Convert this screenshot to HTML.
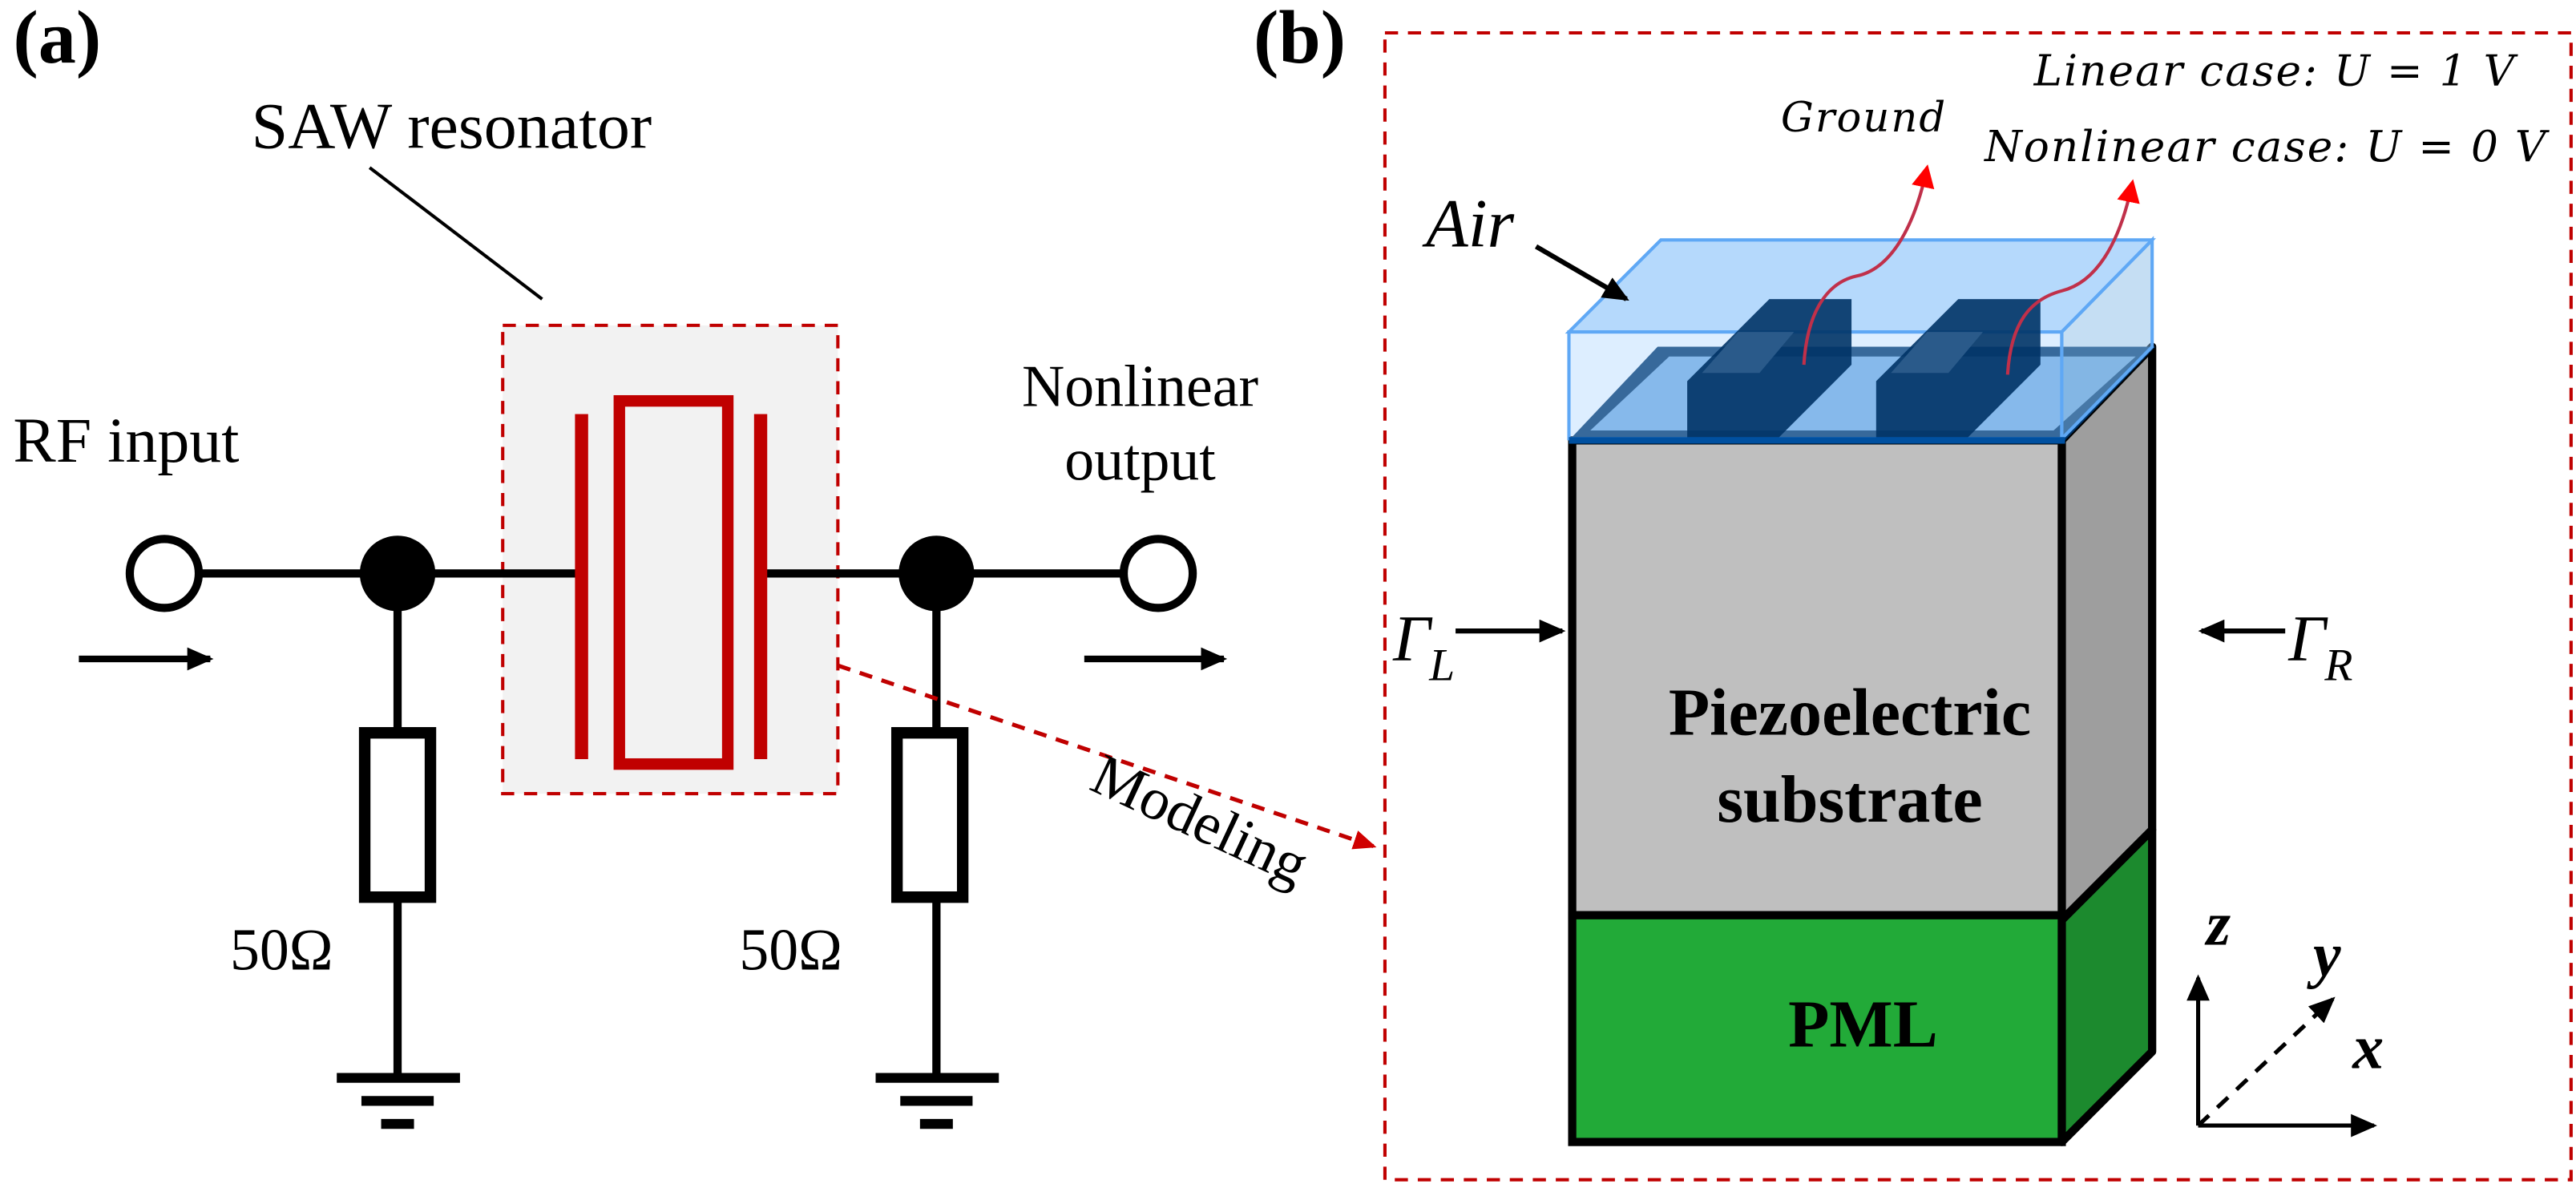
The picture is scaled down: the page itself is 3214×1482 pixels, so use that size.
<!DOCTYPE html>
<html><head><meta charset="utf-8"><style>html,body{margin:0;padding:0;background:#fff}svg{display:block}</style></head>
<body>
<svg width="3214" height="1482" viewBox="0 0 1568 723" xmlns="http://www.w3.org/2000/svg">
<defs>
<marker id="ab2" markerWidth="16" markerHeight="14" refX="14" refY="7" orient="auto" markerUnits="userSpaceOnUse"><path d="M0,0 L16,7 L0,14 z" fill="#000"/></marker>
<marker id="ar" markerWidth="14" markerHeight="12" refX="12" refY="6" orient="auto" markerUnits="userSpaceOnUse"><path d="M0,0 L14,6 L0,12 z" fill="#d00000"/></marker>
<marker id="arr" markerWidth="14" markerHeight="14" refX="12" refY="7" orient="auto" markerUnits="userSpaceOnUse"><path d="M0,0 L14,7 L0,14 z" fill="#ff0000"/></marker>
</defs>
<g font-family="Liberation Serif, serif">
<text x="8" y="38" font-size="46" font-weight="bold">(a)</text>
<text x="763" y="38" font-size="46" font-weight="bold">(b)</text>

<!-- (a) circuit -->
<rect x="306" y="198" width="204" height="285" fill="#f2f2f2" stroke="#c00000" stroke-width="2" stroke-dasharray="8,6"/>
<text x="153" y="90" font-size="40">SAW resonator</text>
<line x1="225" y1="102" x2="330" y2="182" stroke="#000" stroke-width="2"/>
<text x="8" y="281" font-size="39">RF input</text>
<text x="694" y="247" font-size="36" text-anchor="middle">Nonlinear</text>
<text x="694" y="292" font-size="36" text-anchor="middle">output</text>
<line x1="122" y1="349" x2="352" y2="349" stroke="#000" stroke-width="5"/>
<line x1="464" y1="349" x2="685" y2="349" stroke="#000" stroke-width="5"/>
<circle cx="100" cy="349" r="21" fill="#fff" stroke="#000" stroke-width="5"/>
<circle cx="705" cy="349" r="21" fill="#fff" stroke="#000" stroke-width="5"/>
<circle cx="242" cy="349" r="23" fill="#000"/>
<circle cx="570" cy="349" r="23" fill="#000"/>
<rect x="350" y="252" width="8" height="210" fill="#c00000"/>
<rect x="459" y="252" width="8" height="210" fill="#c00000"/>
<rect x="377" y="244" width="66" height="221" fill="none" stroke="#c00000" stroke-width="7"/>
<line x1="48" y1="401" x2="128" y2="401" stroke="#000" stroke-width="4" marker-end="url(#ab2)"/>
<line x1="660" y1="401" x2="745" y2="401" stroke="#000" stroke-width="4" marker-end="url(#ab2)"/>
<line x1="242" y1="370" x2="242" y2="655" stroke="#000" stroke-width="5"/>
<line x1="570" y1="370" x2="570" y2="655" stroke="#000" stroke-width="5"/>
<rect x="222" y="446" width="40" height="100" fill="#fff" stroke="#000" stroke-width="7"/>
<rect x="546" y="446" width="40" height="100" fill="#fff" stroke="#000" stroke-width="7"/>
<line x1="205" y1="656" x2="280" y2="656" stroke="#000" stroke-width="6"/>
<line x1="220" y1="670" x2="264" y2="670" stroke="#000" stroke-width="6"/>
<line x1="232" y1="684" x2="252" y2="684" stroke="#000" stroke-width="6"/>
<line x1="533" y1="656" x2="608" y2="656" stroke="#000" stroke-width="6"/>
<line x1="548" y1="670" x2="592" y2="670" stroke="#000" stroke-width="6"/>
<line x1="560" y1="684" x2="580" y2="684" stroke="#000" stroke-width="6"/>
<text x="140" y="590" font-size="36">50Ω</text>
<text x="450" y="590" font-size="36">50Ω</text>
<line x1="510" y1="405" x2="836" y2="515" stroke="#c00000" stroke-width="2.5" stroke-dasharray="8,6" marker-end="url(#ar)"/>
<text x="0" y="0" font-size="36" transform="translate(662,480) rotate(25)">Modeling</text>

<!-- (b) -->
<rect x="843" y="20" width="722" height="698" fill="none" stroke="#c00000" stroke-width="2" stroke-dasharray="8,6"/>
<polygon points="1255,268 1310,211 1310,505 1255,560" fill="#9e9e9e" stroke="#000" stroke-width="5" stroke-linejoin="round"/>
<polygon points="1255,560 1310,505 1310,640 1255,695" fill="#1c8a2e" stroke="#000" stroke-width="5" stroke-linejoin="round"/>
<rect x="957" y="268" width="298" height="289" fill="#bfbfbf" stroke="#000" stroke-width="5"/>
<rect x="957" y="557" width="298" height="138" fill="#22aa38" stroke="#000" stroke-width="5"/>
<!-- top face -->
<polygon points="955,268 1009,211 1312,211 1257,268" fill="#003366"/>
<polygon points="968,262 1016,217 1300,217 1250,262" fill="#7aaee0"/>
<!-- air box -->
<polygon points="955,202 1011,146 1310,146 1255,202" fill="#a8d2fb" fill-opacity="0.85" stroke="#5fa8f5" stroke-width="2"/>
<polygon points="955,202 1255,202 1255,267 955,267" fill="#9fcfff" fill-opacity="0.35" stroke="#5fa8f5" stroke-width="2"/>
<polygon points="1255,202 1310,146 1310,211 1255,267" fill="#8cbde8" fill-opacity="0.5" stroke="#5fa8f5" stroke-width="2"/>
<!-- electrodes -->
<polygon points="1027,268 1027,232 1077,182 1127,182 1127,222 1081,268" fill="#003366" fill-opacity="0.9"/>
<polygon points="1142,268 1142,232 1192,182 1242,182 1242,222 1196,268" fill="#003366" fill-opacity="0.9"/>
<polygon points="1036,227 1058,202 1092,202 1071,227" fill="#2a5a8a"/>
<polygon points="1151,227 1173,202 1207,202 1186,227" fill="#2a5a8a"/>
<line x1="955" y1="268" x2="1257" y2="268" stroke="#0050a0" stroke-width="4"/>
<!-- wires -->
<path d="M1098,222 C1100,190 1112,172 1130,168 C1150,164 1165,140 1173,102" fill="none" stroke="#c0304a" stroke-width="2" marker-end="url(#arr)"/>
<path d="M1222,228 C1224,196 1236,182 1255,177 C1275,172 1290,150 1298,111" fill="none" stroke="#c0304a" stroke-width="2" marker-end="url(#arr)"/>
<g font-style="italic" font-family="DejaVu Serif, Liberation Serif, serif" letter-spacing="1">
<text x="1084" y="80" font-size="25">Ground</text>
<text x="1238" y="52" font-size="26">Linear case: U = 1 V</text>
<text x="1208" y="98" font-size="26">Nonlinear case: U = 0 V</text>
</g>
<text x="868" y="150" font-size="42" font-style="italic">Air</text>
<line x1="935" y1="150" x2="990" y2="182" stroke="#000" stroke-width="3" marker-end="url(#ab2)"/>
<text x="848" y="402" font-size="40" font-style="italic">Γ</text><text x="870" y="414" font-size="28" font-style="italic">L</text>
<line x1="886" y1="384" x2="951" y2="384" stroke="#000" stroke-width="3" marker-end="url(#ab2)"/>
<text x="1393" y="402" font-size="40" font-style="italic">Γ</text><text x="1415" y="414" font-size="28" font-style="italic">R</text>
<line x1="1391" y1="384" x2="1340" y2="384" stroke="#000" stroke-width="3" marker-end="url(#ab2)"/>
<text x="1126" y="447" font-size="41" font-weight="bold" text-anchor="middle">Piezoelectric</text>
<text x="1126" y="500" font-size="41" font-weight="bold" text-anchor="middle">substrate</text>
<text x="1134" y="637" font-size="41" font-weight="bold" text-anchor="middle">PML</text>
<line x1="1338" y1="685" x2="1338" y2="595" stroke="#000" stroke-width="2.5" marker-end="url(#ab2)"/>
<line x1="1338" y1="685" x2="1445" y2="685" stroke="#000" stroke-width="2.5" marker-end="url(#ab2)"/>
<line x1="1338" y1="685" x2="1420" y2="608" stroke="#000" stroke-width="2.5" stroke-dasharray="9,7" marker-end="url(#ab2)"/>
<text x="1343" y="575" font-size="38" font-weight="bold" font-style="italic">z</text>
<text x="1408" y="594" font-size="38" font-weight="bold" font-style="italic">y</text>
<text x="1432" y="650" font-size="38" font-weight="bold" font-style="italic">x</text>
</g>
</svg>
</body></html>
